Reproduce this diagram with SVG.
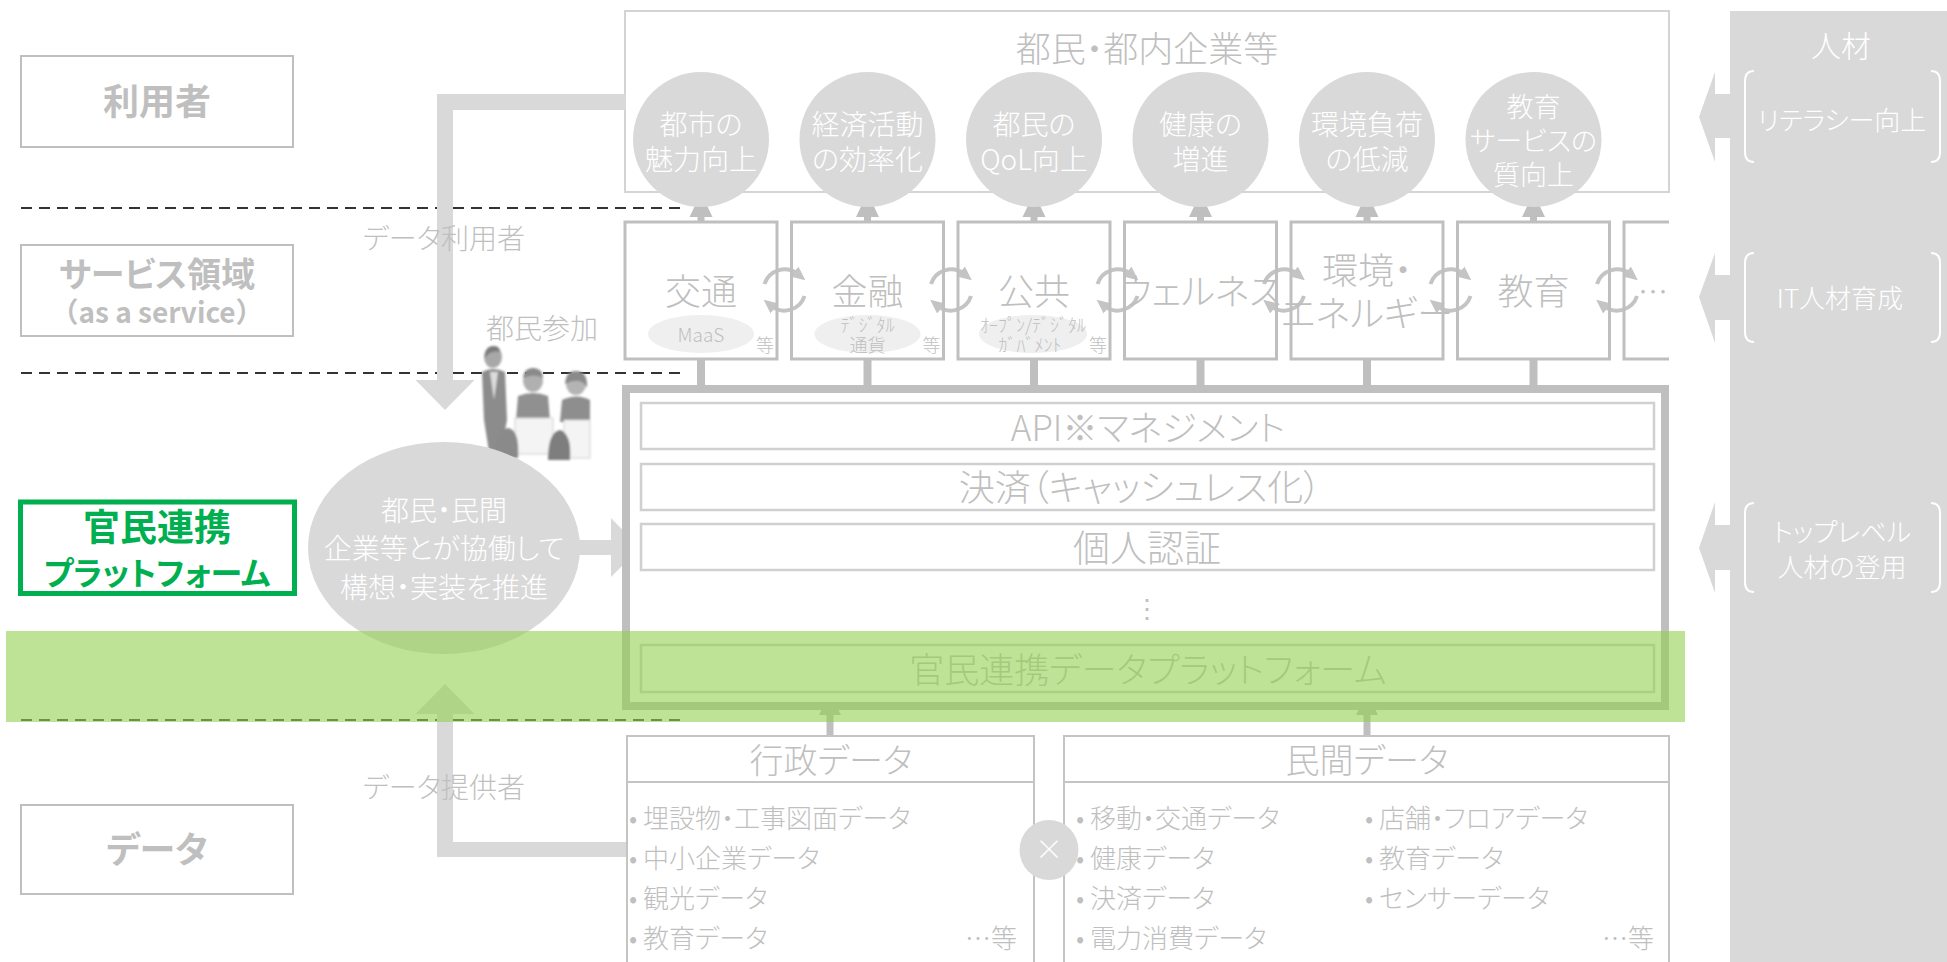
<svg xmlns="http://www.w3.org/2000/svg" width="1947" height="962" viewBox="0 0 1947 962">
  <style>
    text { font-family: "Noto Sans CJK JP", "Noto Sans", sans-serif; font-feature-settings: "palt"; font-weight: 300; }
    .g { fill: #bfbfbf; }
    .w { fill: #ffffff; }
    .b { font-weight: bold; }
    .mid { text-anchor: middle; }
    .lbl { fill: #ffffff; stroke: #bfbfbf; stroke-width: 2; }
    .svc { fill: none; stroke: #bfbfbf; stroke-width: 3; }
    .inner { fill: #ffffff; stroke: #d0d0d0; stroke-width: 2.5; }
    .dbox { fill: none; stroke: #c4c4c4; stroke-width: 2; }
    .dash { stroke: #333333; stroke-width: 2; stroke-dasharray: 11 7; fill: none; }
    .blk { fill: #d9d9d9; }
    .con { fill: #bfbfbf; }
    .bubble { fill: #d9d9d9; }
    .tag { fill: #efefef; }
    .brk { fill: none; stroke: #ffffff; stroke-width: 2; }
    .cyc { fill: none; stroke: #c4c4c4; stroke-width: 4; }
  </style>
  <defs>
    <marker id="cycHead" markerUnits="userSpaceOnUse" markerWidth="16" markerHeight="16" viewBox="0 0 16 16" refX="4" refY="8" orient="auto">
      <path d="M0,1.5 L14,8 L0,14.5 Z" fill="#c4c4c4"/>
    </marker>
    <g id="cycle">
      <path class="cyc" d="M-20,-6 A21,21 0 0 1 13,-16" marker-end="url(#cycHead)"/>
      <path class="cyc" d="M20,6 A21,21 0 0 1 -13,16" marker-end="url(#cycHead)"/>
    </g>
    <path id="upHead" d="M-11.5,24 L0,0 L11.5,24 Z"/>
    <filter id="soft" x="-10%" y="-10%" width="120%" height="120%">
      <feGaussianBlur stdDeviation="0.9"/>
    </filter>
  </defs>

  <!-- layer dividers -->
  <g id="dividers">
    <line class="dash" x1="21" y1="208" x2="687" y2="208"/>
    <line class="dash" x1="21" y1="373" x2="687" y2="373"/>
    <line class="dash" x1="21" y1="720" x2="687" y2="720"/>
  </g>

  <!-- left-hand layer labels -->
  <g id="label-users">
    <rect class="lbl" x="21" y="56" width="272" height="91"/>
    <text class="g b mid" x="157" y="115" font-size="36">利用者</text>
  </g>
  <g id="label-service">
    <rect class="lbl" x="21" y="245" width="272" height="91"/>
    <text class="g b mid" x="157" y="287" font-size="34">サービス領域</text>
    <text class="g b mid" x="157" y="323" font-size="28" style="font-feature-settings: normal;">（as a service）</text>
  </g>
  <g id="label-platform">
    <rect x="20.5" y="502" width="274" height="91.5" fill="#ffffff" stroke="#00b050" stroke-width="5"/>
    <text class="b mid" x="157" y="541" font-size="37" fill="#00b050">官民連携</text>
    <text class="b mid" x="157" y="585" font-size="32" fill="#00b050">プラットフォーム</text>
  </g>
  <g id="label-data">
    <rect class="lbl" x="21" y="805" width="272" height="89"/>
    <text class="g b mid" x="157" y="863" font-size="36">データ</text>
  </g>

  <!-- citizens and companies -->
  <g id="citizens">
    <rect x="625" y="11" width="1044" height="181" fill="#ffffff" stroke="#d4d4d4" stroke-width="2"/>
    <text class="g mid" x="1147" y="62" font-size="35">都民・都内企業等</text>
  </g>

  <!-- human resources panel -->
  <g id="talent">
    <rect class="blk" x="1730" y="11" width="217" height="951"/>
    <text class="w mid" x="1841" y="57" font-size="30">人材</text>
    <path class="blk" d="M1730,94 L1715,94 L1715,72 L1699,117 L1715,162 L1715,138 L1730,138 Z"/>
    <path class="brk" d="M1754,71 Q1745,71 1745,81 L1745,152 Q1745,162 1754,162 M1931,71 Q1940,71 1940,81 L1940,152 Q1940,162 1931,162"/>
    <text class="w mid" x="1842" y="130" font-size="26">リテラシー向上</text>
    <path class="blk" d="M1730,275 L1715,275 L1715,253 L1699,297 L1715,343 L1715,320 L1730,320 Z"/>
    <path class="brk" d="M1754,253 Q1745,253 1745,263 L1745,332 Q1745,342 1754,342 M1931,253 Q1940,253 1940,263 L1940,332 Q1940,342 1931,342"/>
    <text class="w mid" x="1840" y="308" font-size="26">IT人材育成</text>
    <path class="blk" d="M1730,525 L1715,525 L1715,502 L1699,548 L1715,593 L1715,570 L1730,570 Z"/>
    <path class="brk" d="M1754,503 Q1745,503 1745,513 L1745,582 Q1745,592 1754,592 M1931,503 Q1940,503 1940,513 L1940,582 Q1940,592 1931,592"/>
    <text class="w mid" x="1842" y="542" font-size="26">トップレベル</text>
    <text class="w mid" x="1842" y="577" font-size="26">人材の登用</text>
  </g>

  <!-- connectors -->
  <g id="connectors">
    <!-- data users loop -->
    <path class="blk" d="M626,94 L437,94 L437,380 L415.5,380 L445,410 L474.5,380 L453,380 L453,110 L626,110 Z"/>
    <!-- data providers loop -->
    <path class="blk" d="M627,842 L453,842 L453,714 L474.5,714 L445,684 L415.5,714 L437,714 L437,857 L627,857 Z"/>
    <!-- services up to outcomes -->
    <g class="con">
      <use href="#upHead" x="701" y="193"/><rect x="697.5" y="215" width="7" height="8"/>
      <use href="#upHead" x="867.5" y="193"/><rect x="864" y="215" width="7" height="8"/>
      <use href="#upHead" x="1034" y="193"/><rect x="1030.5" y="215" width="7" height="8"/>
      <use href="#upHead" x="1200.5" y="193"/><rect x="1197" y="215" width="7" height="8"/>
      <use href="#upHead" x="1367" y="193"/><rect x="1363.5" y="215" width="7" height="8"/>
      <use href="#upHead" x="1533.5" y="193"/><rect x="1530" y="215" width="7" height="8"/>
    </g>
    <!-- services down to platform -->
    <g class="con">
      <rect x="697" y="358" width="8" height="29"/>
      <rect x="863.5" y="358" width="8" height="29"/>
      <rect x="1030" y="358" width="8" height="29"/>
      <rect x="1196.5" y="358" width="8" height="29"/>
      <rect x="1363" y="358" width="8" height="29"/>
      <rect x="1529.5" y="358" width="8" height="29"/>
    </g>
    <!-- data sources up to platform -->
    <g class="con">
      <path d="M819,715 L830,692 L841,715 Z"/><rect x="826.5" y="714" width="7" height="23"/>
      <path d="M1356,715 L1367,692 L1378,715 Z"/><rect x="1363.5" y="714" width="7" height="23"/>
    </g>
    <!-- service cross links -->
    <use href="#cycle" x="784.5" y="290"/>
    <use href="#cycle" x="951" y="290"/>
    <use href="#cycle" x="1117.5" y="290"/>
    <use href="#cycle" x="1284" y="290"/>
    <use href="#cycle" x="1450.5" y="290"/>
    <use href="#cycle" x="1617" y="290"/>
    <!-- collaboration into platform -->
    <path class="blk" d="M570,540 L611,540 L611,518 L640,548 L611,577 L611,555 L570,555 Z"/>
  </g>

  <!-- outcome bubbles -->
  <g id="outcome-1">
    <ellipse class="bubble" cx="701" cy="139.5" rx="68" ry="67.5"/>
    <text class="w mid" x="701" y="135" font-size="28">都市の</text>
    <text class="w mid" x="701" y="170" font-size="28">魅力向上</text>
  </g>
  <g id="outcome-2">
    <ellipse class="bubble" cx="867.5" cy="139.5" rx="68" ry="67.5"/>
    <text class="w mid" x="867.5" y="135" font-size="28">経済活動</text>
    <text class="w mid" x="867.5" y="170" font-size="28">の効率化</text>
  </g>
  <g id="outcome-3">
    <ellipse class="bubble" cx="1034" cy="139.5" rx="68" ry="67.5"/>
    <text class="w mid" x="1034" y="135" font-size="28">都民の</text>
    <text class="w mid" x="1034" y="170" font-size="28">QoL向上</text>
  </g>
  <g id="outcome-4">
    <ellipse class="bubble" cx="1200.5" cy="139.5" rx="68" ry="67.5"/>
    <text class="w mid" x="1200.5" y="135" font-size="28">健康の</text>
    <text class="w mid" x="1200.5" y="170" font-size="28">増進</text>
  </g>
  <g id="outcome-5">
    <ellipse class="bubble" cx="1367" cy="139.5" rx="68" ry="67.5"/>
    <text class="w mid" x="1367" y="135" font-size="28">環境負荷</text>
    <text class="w mid" x="1367" y="170" font-size="28">の低減</text>
  </g>
  <g id="outcome-6">
    <ellipse class="bubble" cx="1533.5" cy="139.5" rx="68" ry="67.5"/>
    <text class="w mid" x="1533.5" y="117" font-size="27">教育</text>
    <text class="w mid" x="1533.5" y="151" font-size="27">サービスの</text>
    <text class="w mid" x="1533.5" y="185" font-size="27">質向上</text>
  </g>

  <!-- service domains -->
  <g id="svc-mobility">
    <rect class="svc" x="625" y="222" width="152" height="137"/>
    <text class="g mid" x="701" y="305" font-size="36">交通</text>
    <ellipse class="tag" cx="701" cy="334" rx="53" ry="19"/>
    <text class="g mid" x="701" y="342" font-size="19">MaaS</text>
    <text class="g mid" x="765" y="352" font-size="18">等</text>
  </g>
  <g id="svc-finance">
    <rect class="svc" x="791.5" y="222" width="152" height="137"/>
    <text class="g mid" x="867.5" y="305" font-size="36">金融</text>
    <ellipse class="tag" cx="867.5" cy="334" rx="53" ry="19"/>
    <text class="g mid" x="867.5" y="332" font-size="18">ﾃﾞｼﾞﾀﾙ</text>
    <text class="g mid" x="867.5" y="352" font-size="18">通貨</text>
    <text class="g mid" x="931.5" y="352" font-size="18">等</text>
  </g>
  <g id="svc-public">
    <rect class="svc" x="958" y="222" width="152" height="137"/>
    <text class="g mid" x="1034" y="305" font-size="36">公共</text>
    <ellipse class="tag" cx="1033" cy="334" rx="54" ry="19"/>
    <text class="g mid" x="1033" y="332" font-size="18">ｵｰﾌﾟﾝ/ﾃﾞｼﾞﾀﾙ</text>
    <text class="g mid" x="1030" y="352" font-size="18">ｶﾞﾊﾞﾒﾝﾄ</text>
    <text class="g mid" x="1098" y="352" font-size="18">等</text>
  </g>
  <g id="svc-wellness">
    <rect class="svc" x="1124.5" y="222" width="152" height="137"/>
    <text class="g mid" x="1200.5" y="305" font-size="36">ウェルネス</text>
  </g>
  <g id="svc-energy">
    <rect class="svc" x="1291" y="222" width="152" height="137"/>
    <text class="g mid" x="1367" y="284" font-size="36">環境・</text>
    <text class="g mid" x="1367" y="327" font-size="36">エネルギー</text>
  </g>
  <g id="svc-education">
    <rect class="svc" x="1457.5" y="222" width="152" height="137"/>
    <text class="g mid" x="1533.5" y="305" font-size="36">教育</text>
  </g>
  <g id="svc-more">
    <path class="svc" d="M1669,222 L1624,222 L1624,359 L1669,359"/>
    <text class="g" x="1638" y="303" font-size="30">…</text>
  </g>

  <!-- platform -->
  <g id="platform">
    <rect x="626" y="389" width="1039" height="317" fill="#ffffff" stroke="#bfbfbf" stroke-width="8"/>
    <rect class="inner" x="641" y="403" width="1013" height="46"/>
    <text class="g mid" x="1148" y="441" font-size="35">API※マネジメント</text>
    <rect class="inner" x="641" y="464" width="1013" height="46"/>
    <text class="g mid" x="1140" y="501" font-size="36">決済（キャッシュレス化）</text>
    <rect class="inner" x="641" y="524" width="1013" height="46"/>
    <text class="g mid" x="1147" y="562" font-size="37">個人認証</text>
    <text class="g mid" x="1147" y="618" font-size="26" style="font-family: 'DejaVu Sans', sans-serif;">⋮</text>
    <rect class="inner" x="641" y="645" width="1013" height="47"/>
    <text class="g mid" x="1148" y="683" font-size="35">官民連携データプラットフォーム</text>
  </g>

  <!-- citizens taking part -->
  <g id="participants" filter="url(#soft)">
    <ellipse cx="493" cy="357" rx="9" ry="11" fill="#a8a8a8"/>
    <path d="M492,346 Q484,348 485,358 Q490,350 500,352 Q500,345 492,346 Z" fill="#7d7d7d"/>
    <path d="M482,372 Q493,366 505,372 L507,420 L500,458 L490,458 L484,420 Z" fill="#8c8c8c"/>
    <path d="M490,372 L494,400 L498,372 Z" fill="#dcdcdc"/>
    <ellipse cx="533" cy="381" rx="10" ry="11" fill="#b0b0b0"/>
    <path d="M523,378 Q524,367 534,368 Q543,369 543,378 Q535,373 523,378 Z" fill="#8a8a8a"/>
    <path d="M518,396 Q533,390 548,396 L550,420 L516,420 Z" fill="#909090"/>
    <ellipse cx="576" cy="384" rx="10" ry="11" fill="#b4b4b4"/>
    <path d="M565,384 Q566,370 577,371 Q588,372 587,388 Q582,376 565,384 Z" fill="#8a8a8a"/>
    <path d="M562,400 Q577,393 590,400 L590,422 L560,422 Z" fill="#8e8e8e"/>
    <rect x="515" y="418" width="38" height="36" fill="#f4f4f4" stroke="#d0d0d0" stroke-width="1"/>
    <rect x="564" y="420" width="26" height="38" fill="#f4f4f4" stroke="#d0d0d0" stroke-width="1"/>
    <path d="M495,458 Q496,430 508,428 Q520,430 518,458 Z" fill="#8a8a8a"/>
    <path d="M548,460 Q548,432 560,430 Q572,434 570,460 Z" fill="#7e7e7e"/>
  </g>

  <!-- public-private collaboration -->
  <g id="collaboration">
    <ellipse class="bubble" cx="444" cy="548" rx="136" ry="106"/>
    <text class="w mid" x="444" y="521" font-size="28">都民・民間</text>
    <text class="w mid" x="444" y="559" font-size="28">企業等とが協働して</text>
    <text class="w mid" x="444" y="598" font-size="28">構想・実装を推進</text>
  </g>

  <!-- data sources -->
  <g id="gov-data">
    <path class="dbox" d="M627,970 L627,736 L1034,736 L1034,970 M627,782 L1034,782"/>
    <text class="g mid" x="831" y="773" font-size="34">行政データ</text>
    <text class="g" x="629" y="828" font-size="26">• 埋設物・工事図面データ</text>
    <text class="g" x="629" y="868" font-size="26">• 中小企業データ</text>
    <text class="g" x="629" y="908" font-size="26">• 観光データ</text>
    <text class="g" x="629" y="948" font-size="26">• 教育データ</text>
    <text class="g" x="1017" y="948" font-size="26" text-anchor="end">…等</text>
  </g>
  <g id="private-data">
    <path class="dbox" d="M1064,970 L1064,736 L1669,736 L1669,970 M1064,782 L1669,782"/>
    <text class="g mid" x="1367" y="773" font-size="34">民間データ</text>
    <text class="g" x="1076" y="828" font-size="26">• 移動・交通データ</text>
    <text class="g" x="1076" y="868" font-size="26">• 健康データ</text>
    <text class="g" x="1076" y="908" font-size="26">• 決済データ</text>
    <text class="g" x="1076" y="948" font-size="26">• 電力消費データ</text>
    <text class="g" x="1365" y="828" font-size="26">• 店舗・フロアデータ</text>
    <text class="g" x="1365" y="868" font-size="26">• 教育データ</text>
    <text class="g" x="1365" y="908" font-size="26">• センサーデータ</text>
    <text class="g" x="1654" y="948" font-size="26" text-anchor="end">…等</text>
  </g>
  <g id="combine">
    <ellipse class="bubble" cx="1049" cy="850" rx="29.5" ry="30"/>
    <text class="w mid" x="1049" y="860" font-size="28">×</text>
  </g>

  <!-- loop captions -->
  <g id="captions">
    <text class="g mid" x="444" y="249" font-size="28">データ利用者</text>
    <text class="g mid" x="542" y="339" font-size="28">都民参加</text>
    <text class="g mid" x="444" y="798" font-size="28">データ提供者</text>
  </g>

  <!-- platform layer highlight -->
  <rect id="platform-band" x="6" y="631" width="1679" height="91" fill="#92d050" fill-opacity="0.6"/>
</svg>
